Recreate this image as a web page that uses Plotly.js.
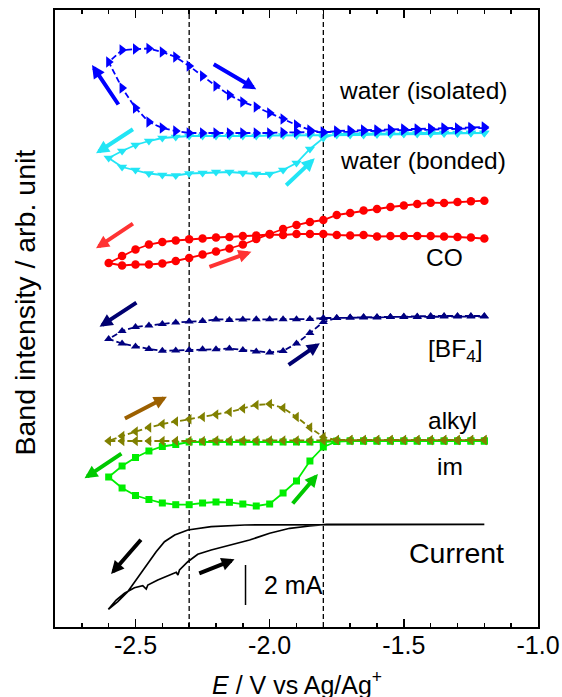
<!DOCTYPE html>
<html>
<head>
<meta charset="utf-8">
<script src="https://cdn.plot.ly/plotly-3.0.1.min.js"></script>
<style>html,body{margin:0;padding:0;background:#fff;}#chart{width:562px;height:697px;}</style>
</head>
<body>
<div id="chart"></div>
<script>
// Potential grid (V vs Ag/Ag+): cathodic sweep then anodic sweep
const E_cath = [-1.20,-1.25,-1.30,-1.35,-1.40,-1.45,-1.50,-1.55,-1.60,-1.65,-1.70,-1.75,-1.80,-1.85,-1.90,-1.95,-2.00,-2.05,-2.10,-2.15,-2.20,-2.25,-2.30,-2.35,-2.40,-2.45,-2.50,-2.55,-2.60];
const E_anod = [-2.55,-2.50,-2.45,-2.40,-2.35,-2.30,-2.25,-2.20,-2.15,-2.10,-2.05,-2.00,-1.95,-1.90,-1.85,-1.80,-1.75,-1.70,-1.65,-1.60,-1.55,-1.50,-1.45,-1.40,-1.35,-1.30,-1.25,-1.20];

// Band intensities (arb. units, offset stacked)
const isoCath = [499,498.5,498,498,497.5,497,497,496.5,496,496,495.5,495,495,495,495,494.5,494,494,494,494,494,494,494,496,499,505,519,539,565];
const isoAnod = [577,578,578.5,575,570,561,551,541,532,525,520,514,508,502,497,494.5,496,496.5,497,497,497.5,498,498,498.5,499,499,499.5,500];

const bondCath = [494,494,493.5,493.5,493,493,493,492.5,492.5,492,492,492,492,491.5,491.5,491.5,491.5,491,491,491,491,491,491,490,489,486,482,476,469];
const bondAnod = [460,457,453.5,452,451.5,453.5,454,455,455,454,453,453,457,464,478,489,493,493,493,493.5,493.5,493.5,494,494,494,494,494,494];

const coCath = [388.5,389.5,390,390.5,391,391,391,391,390.5,392,391.5,392,393,393,393,392,392.5,391.5,391,390,389.5,388.5,387.7,386.5,385,382.5,377.5,371,364];
const coAnod = [361.5,362.5,362.5,363.5,366,369,372.5,375.5,378.5,382.5,388,393,398,402,405,407,412,414,416.5,418,420,421.5,423,424.3,424,425,425.7,426.3];

const bf4Cath = [310.5,310.5,310.5,310.5,310,310,310,310,309.5,309.5,309.5,309,309,308,307.7,307.7,307.7,307.7,307.5,307,307.5,306,305.5,304.5,303,301.5,300,296,288];
const bf4Anod = [283.5,280.5,278,276.2,276.5,277,277.7,277.7,278.5,277,275.5,274.5,276,283.5,294,305,309,309.5,310,310,310,310.5,310.5,311,311,311,311,311];

const alkCath = [187,187,187,187,187,187,187,187,187,187,187,187,186.5,186.5,186.5,186.5,186.5,186.5,186.5,186.5,186.5,186,186,186,186,186,186,186,186];
const alkAnod = [191,195.5,199.5,203,205.5,207.7,210,212.5,215,218.5,222,223,219,210,199.5,190,187,187,187,187,187,187,187,187,187,187,187,187];

const imCath = [186,186,186,186,186,186,186,186,186,186,186,186,185,185,185,185,185,185,185,185,185,185,185,182.5,180.5,176,169.5,161,150];
const imAnod = [139,131.5,127.5,124,122.3,122.3,124,125,124.7,123,121,123,134,146,166,180,185.5,186,186,186,186,186,186,186,186,186,186,186];

// Cyclic voltammogram current (arb. offset units)
const curE = [-1.20,-1.50,-1.788,-2.00,-2.093,-2.218,-2.305,-2.354,-2.392,-2.423,-2.454,-2.491,-2.529,-2.566,-2.601,
              -2.572,-2.541,-2.504,-2.473,-2.460,-2.454,-2.417,-2.379,-2.348,-2.342,-2.336,-2.305,-2.268,-2.218,-2.156,-2.093,-2.075,-2.00,-1.925,-1.851,-1.788,-1.50,-1.20];
const curI = [102.7,102.7,102.7,102.7,102,100.3,97,92,85.3,75.3,63.7,48.7,35.3,25.3,17.7,
              27,33.7,39.3,41.3,38,42,47,51.3,54.7,52,57,65.3,72.7,77,81.3,86,87,93.7,98.7,101,102.7,102.7,102.7];

// Tick labels
const xTickVals = [-2.5,-2.0,-1.5,-1.0];
const xTickText = ['-2.5','-2.0','-1.5','-1.0'];

// Labels
const labelText = ['water (isolated)','water (bonded)','CO','[BF<sub>4</sub>]','alkyl','im','Current'];
const labelX = [-1.429,-1.429,-1.347,-1.310,-1.317,-1.328,-1.302];
const labelY = [537,467,370,277,207,161,74];
const labelSize = [24.5,24.5,24.5,24.5,24.5,24.5,28.5];

// Direction arrows: tail -> head, colour
const arrowTailX = [-2.560,-2.214,-2.504,-1.944,-2.504,-2.230,-2.491,-1.935,-2.545,-2.547,-1.919,-2.475,-2.268];
const arrowTailY = [521,563.7,498.7,440.3,404.3,359.7,325.3,261,207.7,174.3,122,88.7,53];
const arrowHeadX = [-2.662,-2.050,-2.647,-1.832,-2.647,-2.068,-2.634,-1.813,-2.383,-2.690,-1.820,-2.591,-2.131];
const arrowHeadY = [562,537.7,473.7,468.7,378.7,375.3,300.3,283.7,230.3,148.7,153,53,67.7];
const arrowColor = ['#0000ff','#0000ff','#22e5f5','#22e5f5','#ff3333','#ff3333','#000070','#000070','#9c6000','#00c800','#00c800','#000000','#000000'];

const FONT = 'Liberation Sans, Arial, sans-serif';
const E_all = E_cath.concat(E_anod);

function series(yc, ya, color, symbol, size, dash) {
  return {
    x: E_all, y: yc.concat(ya), type: 'scatter', mode: 'lines+markers',
    line: {color: color, width: 1.8, dash: dash},
    marker: {symbol: symbol, size: size, color: color},
    hoverinfo: 'skip'
  };
}

const traces = [
  series(bondCath, bondAnod, '#22e5f5', 'triangle-down', 9, 'solid'),
  series(isoCath, isoAnod, '#0000ff', 'triangle-right', 10, '6px,3px'),
  series(coCath, coAnod, '#ff0000', 'circle', 8.5, 'solid'),
  series(bf4Cath, bf4Anod, '#000080', 'triangle-up', 8, '6px,3px'),
  series(imCath, imAnod, '#00ee00', 'square', 7, 'solid'),
  series(alkCath, alkAnod, '#808000', 'triangle-left', 9, '6px,3px'),
  {x: curE, y: curI, type: 'scatter', mode: 'lines', line: {color: '#000', width: 1.7}, hoverinfo: 'skip'}
];

const annotations = [];
for (let i = 0; i < labelText.length; i++) {
  annotations.push({x: labelX[i], y: labelY[i], xref: 'x', yref: 'y', text: labelText[i], showarrow: false,
    font: {family: FONT, size: labelSize[i], color: '#000'}, xanchor: 'center', yanchor: 'middle'});
}
for (let i = 0; i < arrowTailX.length; i++) {
  annotations.push({x: arrowHeadX[i], y: arrowHeadY[i], ax: arrowTailX[i], ay: arrowTailY[i],
    xref: 'x', yref: 'y', axref: 'x', ayref: 'y', text: '', showarrow: true,
    arrowhead: 2, arrowsize: 0.65, arrowwidth: 4, arrowcolor: arrowColor[i], standoff: 0, startstandoff: 0});
}
annotations.push({x: -2.030, y: 42, xref: 'x', yref: 'y', text: '2 mA', showarrow: false,
  font: {family: FONT, size: 25, color: '#000'}, xanchor: 'left', yanchor: 'middle'});
annotations.push({x: -0.062, y: 0.526, xref: 'paper', yref: 'paper', text: 'Band intensity / arb. unit',
  textangle: -90, showarrow: false, font: {family: FONT, size: 28.5, color: '#000'}, xanchor: 'center', yanchor: 'middle'});
annotations.push({x: 0.5, y: -0.091, xref: 'paper', yref: 'paper', text: '<i>E</i> / V vs Ag/Ag<sup>+</sup>',
  showarrow: false, font: {family: FONT, size: 25, color: '#000'}, xanchor: 'center', yanchor: 'middle'});

const shapes = [
  {type: 'line', xref: 'x', yref: 'paper', x0: -2.3, x1: -2.3, y0: 0, y1: 1, line: {color: '#000', width: 1.3, dash: '5px,3px'}, layer: 'below'},
  {type: 'line', xref: 'x', yref: 'paper', x0: -1.8, x1: -1.8, y0: 0, y1: 1, line: {color: '#000', width: 1.3, dash: '5px,3px'}, layer: 'below'},
  {type: 'line', xref: 'x', yref: 'y', x0: -2.090, x1: -2.090, y0: 22, y1: 62, line: {color: '#000', width: 1.5}}
];

const layout = {
  width: 562, height: 697,
  margin: {l: 55, r: 24, t: 10, b: 70},
  paper_bgcolor: '#fff', plot_bgcolor: '#fff',
  showlegend: false,
  font: {family: FONT, color: '#000'},
  xaxis: {
    range: [-2.8, -1.0], tickmode: 'array', tickvals: xTickVals, ticktext: xTickText,
    ticks: 'inside', ticklen: 8, tickwidth: 1.5, tickcolor: '#000',
    showline: true, linewidth: 2, linecolor: '#000', mirror: 'allticks',
    showgrid: false, zeroline: false, tickfont: {family: FONT, size: 25, color: '#000'},
    ticklabelstandoff: -5,
    minor: {tickmode: 'linear', tick0: -2.8, dtick: 0.1, ticks: 'inside', ticklen: 4, tickwidth: 1.5, tickcolor: '#000', showgrid: false}
  },
  yaxis: {
    range: [0, 617], showline: true, linewidth: 2, linecolor: '#000', mirror: true,
    ticks: '', showticklabels: false, showgrid: false, zeroline: false
  },
  annotations: annotations,
  shapes: shapes
};

Plotly.newPlot('chart', traces, layout, {staticPlot: true, displayModeBar: false});
</script>
</body>
</html>
